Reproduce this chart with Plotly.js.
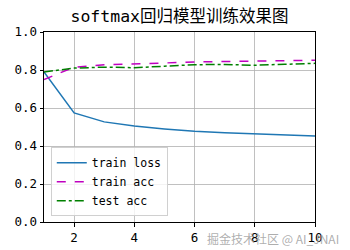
<!DOCTYPE html>
<html><head><meta charset="utf-8">
<script src="https://cdn.plot.ly/plotly-3.0.1.min.js"></script>
<style>body{margin:0;background:#fff}#c{width:350px;height:250px}</style>
</head><body><div id="c"></div>
<script>
var epochs = [1,2,3,4,5,6,7,8,9,10];
var trainLoss = [0.79,0.574,0.527,0.505,0.490,0.478,0.470,0.463,0.457,0.452];
var trainAcc = [0.750,0.815,0.827,0.833,0.838,0.842,0.845,0.847,0.849,0.851];
var testAcc = [0.790,0.810,0.815,0.812,0.820,0.828,0.829,0.825,0.830,0.835];
var F = "DejaVu Sans Mono, Noto Sans CJK SC, monospace";
var traces = [
 {x:epochs,y:trainLoss,name:"train loss",mode:"lines",line:{color:"#1f77b4",width:1.5}},
 {x:epochs,y:trainAcc,name:"train acc",mode:"lines",line:{color:"#bf00bf",width:1.5,dash:"dash"}},
 {x:epochs,y:testAcc,name:"test acc",mode:"lines",line:{color:"#008000",width:1.5,dash:"dashdot"}}
];
var layout = {
 width:350,height:250,margin:{l:44,r:35,t:32,b:28},
 paper_bgcolor:"#fff",plot_bgcolor:"#fff",
 font:{family:F,size:12,color:"#000"},
 title:{text:"softmax回归模型训练效果图",x:0.5,xref:"paper",y:0.935,yanchor:"middle",font:{family:F,size:16.5,color:"#000"}},
 xaxis:{range:[1,10],tickvals:[2,4,6,8,10],showgrid:true,gridcolor:"#b0b0b0",gridwidth:0.8,
   showline:true,linecolor:"#000",linewidth:1,mirror:true,ticks:"outside",ticklen:3.5,tickcolor:"#000",zeroline:false,
   tickfont:{family:F,size:12.5}},
 yaxis:{range:[0,1],tickvals:[0,0.2,0.4,0.6,0.8,1.0],ticktext:["0.0","0.2","0.4","0.6","0.8","1.0"],
   showgrid:true,gridcolor:"#b0b0b0",gridwidth:0.8,showline:true,linecolor:"#000",linewidth:1,mirror:true,
   ticks:"outside",ticklen:3.5,tickcolor:"#000",zeroline:false,tickfont:{family:F,size:12.5}},
 legend:{x:0.025,y:0.03,xanchor:"left",yanchor:"bottom",bgcolor:"rgba(255,255,255,0.8)",bordercolor:"#d0d0d0",borderwidth:1,
   font:{family:F,size:11.5},tracegroupgap:0,itemwidth:30},
 showlegend:true,
 annotations:[{text:"掘金技术社区 @ AI_JNAI",xref:"paper",yref:"paper",x:1.095,y:-0.03,xanchor:"right",yanchor:"top",
   showarrow:false,font:{family:"Noto Sans CJK SC, sans-serif",size:12,color:"rgba(160,160,160,0.85)"}}]
};
Plotly.newPlot("c",traces,layout,{staticPlot:true,displayModeBar:false});
</script></body></html>
